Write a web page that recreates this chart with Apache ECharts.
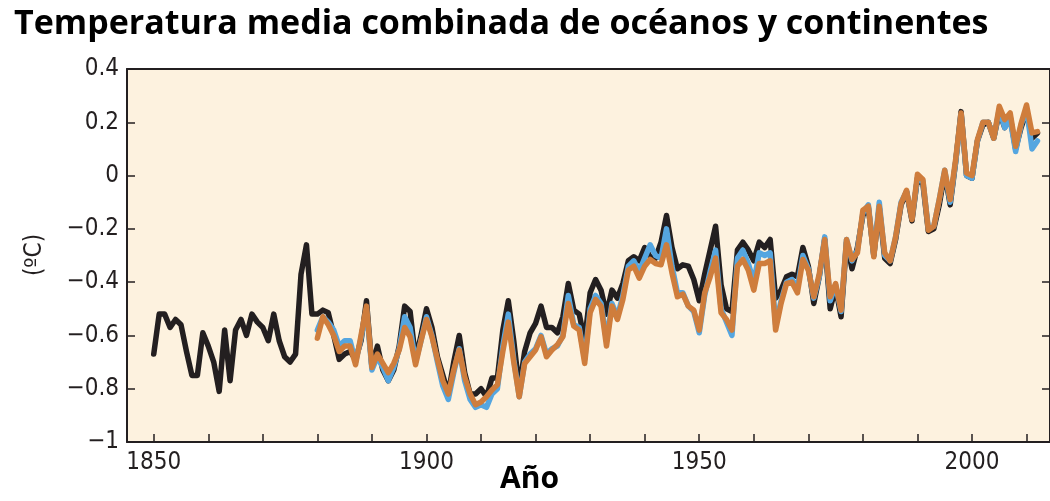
<!DOCTYPE html>
<html>
<head>
<meta charset="utf-8">
<script src="https://cdn.jsdelivr.net/npm/echarts@6/dist/echarts.min.js"></script>
<style>
  html, body { margin: 0; padding: 0; background: #ffffff; }
  #chart { width: 1050px; height: 501px; }
</style>
</head>
<body>
<div id="chart"></div>
<script>
// Annual combined land and ocean surface temperature anomalies (°C)
const blackStart = 1850;
const blackValues = [
  -0.67, -0.52, -0.52, -0.57, -0.54, -0.56, -0.66, -0.75, -0.75, -0.59,
  -0.64, -0.70, -0.81, -0.58, -0.77, -0.58, -0.54, -0.60, -0.52, -0.55,
  -0.57, -0.62, -0.52, -0.62, -0.68, -0.70, -0.67, -0.37, -0.26, -0.52,
  -0.52, -0.505, -0.515, -0.60, -0.69, -0.67, -0.66, -0.69, -0.62, -0.47,
  -0.72, -0.64, -0.73, -0.77, -0.73, -0.64, -0.49, -0.51, -0.69, -0.60,
  -0.50, -0.57, -0.68, -0.75, -0.82, -0.70, -0.60, -0.74, -0.82, -0.82,
  -0.80, -0.83, -0.76, -0.76, -0.58, -0.47, -0.62, -0.80, -0.66, -0.59,
  -0.555, -0.49, -0.57, -0.57, -0.59, -0.53, -0.405, -0.505, -0.52, -0.62,
  -0.44, -0.39, -0.43, -0.52, -0.43, -0.46, -0.405, -0.32, -0.305, -0.32,
  -0.27, -0.305, -0.31, -0.25, -0.15, -0.27, -0.35, -0.335, -0.34, -0.39,
  -0.47, -0.37, -0.28, -0.19, -0.41, -0.50, -0.51, -0.28, -0.25, -0.28,
  -0.32, -0.25, -0.27, -0.24, -0.46, -0.43, -0.38, -0.37, -0.38, -0.27,
  -0.34, -0.48, -0.38, -0.24, -0.50, -0.42, -0.53, -0.25, -0.35, -0.27,
  -0.15, -0.12, -0.30, -0.12, -0.31, -0.33, -0.24, -0.11, -0.06, -0.17,
  -0.01, -0.03, -0.21, -0.20, -0.11, 0.01, -0.11, 0.05, 0.24, 0.00,
  -0.01, 0.13, 0.19, 0.20, 0.14, 0.24, 0.18, 0.22, 0.10, 0.18,
  0.24, 0.14, 0.16
];

const blueStart = 1880;
const blueValues = [
  -0.58, -0.53, -0.55, -0.58, -0.64, -0.62, -0.62, -0.70, -0.61, -0.50,
  -0.73, -0.68, -0.72, -0.77, -0.72, -0.65, -0.53, -0.57, -0.70, -0.62,
  -0.53, -0.60, -0.70, -0.79, -0.84, -0.74, -0.65, -0.77, -0.84, -0.87,
  -0.86, -0.87, -0.82, -0.80, -0.64, -0.52, -0.69, -0.83, -0.70, -0.67,
  -0.65, -0.60, -0.67, -0.65, -0.64, -0.60, -0.45, -0.56, -0.57, -0.69,
  -0.50, -0.45, -0.48, -0.62, -0.48, -0.53, -0.45, -0.34, -0.32, -0.36,
  -0.31, -0.26, -0.30, -0.31, -0.20, -0.34, -0.44, -0.44, -0.49, -0.51,
  -0.59, -0.45, -0.36, -0.28, -0.50, -0.55, -0.60, -0.31, -0.28, -0.33,
  -0.40, -0.29, -0.30, -0.29, -0.56, -0.47, -0.40, -0.39, -0.42, -0.30,
  -0.35, -0.46, -0.38, -0.23, -0.47, -0.41, -0.51, -0.24, -0.32, -0.28,
  -0.14, -0.11, -0.30, -0.10, -0.30, -0.32, -0.23, -0.10, -0.06, -0.16,
  -0.01, -0.02, -0.20, -0.19, -0.09, 0.02, -0.10, 0.05, 0.23, 0.00,
  -0.01, 0.13, 0.20, 0.20, 0.14, 0.25, 0.18, 0.21, 0.09, 0.19,
  0.25, 0.10, 0.13
];

const orangeStart = 1880;
const orangeValues = [
  -0.61, -0.53, -0.56, -0.60, -0.66, -0.64, -0.64, -0.71, -0.60, -0.49,
  -0.72, -0.67, -0.705, -0.74, -0.705, -0.655, -0.57, -0.605, -0.71, -0.62,
  -0.54, -0.605, -0.69, -0.77, -0.82, -0.73, -0.655, -0.755, -0.82, -0.86,
  -0.85, -0.83, -0.805, -0.785, -0.66, -0.55, -0.70, -0.83, -0.705, -0.68,
  -0.655, -0.605, -0.68, -0.655, -0.635, -0.605, -0.48, -0.565, -0.58, -0.705,
  -0.515, -0.465, -0.49, -0.64, -0.49, -0.54, -0.465, -0.355, -0.34, -0.385,
  -0.34, -0.315, -0.33, -0.335, -0.26, -0.365, -0.455, -0.445, -0.49, -0.505,
  -0.58, -0.44, -0.38, -0.31, -0.515, -0.54, -0.58, -0.34, -0.315, -0.355,
  -0.43, -0.33, -0.33, -0.32, -0.58, -0.48, -0.405, -0.40, -0.44, -0.315,
  -0.355, -0.455, -0.37, -0.24, -0.455, -0.405, -0.505, -0.24, -0.315, -0.29,
  -0.13, -0.115, -0.305, -0.115, -0.29, -0.32, -0.23, -0.105, -0.055, -0.165,
  0.005, -0.015, -0.205, -0.19, -0.09, 0.02, -0.09, 0.06, 0.235, 0.01,
  0.00, 0.135, 0.20, 0.20, 0.14, 0.26, 0.21, 0.235, 0.11, 0.195,
  0.265, 0.16, 0.165
];

const yTicks = [-1, -0.8, -0.6, -0.4, -0.2, 0, 0.2, 0.4];
const xMinorTicks = [1850, 1860, 1870, 1880, 1890, 1900, 1910, 1920, 1930, 1940, 1950, 1960, 1970, 1980, 1990, 2000, 2010];
const xLabels = [1850, 1900, 1950, 2000];

const titleText = 'Temperatura media combinada de océanos y continentes';
const xTitle = 'Año';
const yTitle = '(ºC)';

function pairs(start, values) {
  return values.map((v, i) => [start + i, v]);
}

function fmtY(v) {
  const r = Math.round(v * 10) / 10;
  if (r === 0) return '0';
  const s = Number.isInteger(r) ? String(Math.abs(r)) : Math.abs(r).toFixed(1);
  return (r < 0 ? '\u2212' : '') + s;
}

const ink = '#231f20';
const tickFont = '"Liberation Sans Narrow", "DejaVu Sans Condensed", sans-serif';
const boldFont = '"Open Sans", "Liberation Sans", sans-serif';

const xMin = 1845.1;
const xMax = 2014.3;

const chart = echarts.init(document.getElementById('chart'), null, { renderer: 'canvas' });

chart.setOption({
  animation: false,
  backgroundColor: '#ffffff',
  title: {
    text: titleText,
    left: 9,
    top: 2,
    textStyle: { fontFamily: boldFont, fontWeight: 'bold', fontSize: 34, color: '#000000' }
  },
  grid: {
    left: 127, top: 69, right: -4, bottom: 59,
    show: true, backgroundColor: '#fdf2df', borderWidth: 0
  },
  xAxis: [{
    type: 'value',
    min: xMin,
    max: xMax,
    position: 'bottom',
    axisLine: { show: true, onZero: false, lineStyle: { color: ink, width: 2 } },
    axisTick: { show: true, inside: true, length: 8, customValues: xMinorTicks, lineStyle: { color: ink, width: 1.5 } },
    axisLabel: { show: true, customValues: xLabels, margin: 9, fontSize: 24, color: ink, fontFamily: tickFont, formatter: (v) => String(v) },
    splitLine: { show: false }
  }, {
    type: 'value',
    min: xMin,
    max: xMax,
    position: 'top',
    axisLine: { show: true, onZero: false, lineStyle: { color: ink, width: 2 } },
    axisTick: { show: false },
    axisLabel: { show: false },
    splitLine: { show: false }
  }],
  yAxis: [{
    type: 'value',
    min: -1,
    max: 0.4,
    interval: 0.2,
    position: 'left',
    axisLine: { show: true, onZero: false, lineStyle: { color: ink, width: 2 } },
    axisTick: { show: true, inside: true, length: 8, lineStyle: { color: ink, width: 1.5 } },
    axisLabel: { margin: 8, fontSize: 24, color: ink, fontFamily: tickFont, formatter: fmtY },
    splitLine: { show: false }
  }, {
    type: 'value',
    min: -1,
    max: 0.4,
    interval: 0.2,
    position: 'right',
    axisLine: { show: true, onZero: false, lineStyle: { color: ink, width: 2 } },
    axisTick: { show: true, inside: true, length: 8, lineStyle: { color: ink, width: 1.5 } },
    axisLabel: { show: false },
    splitLine: { show: false }
  }],
  graphic: [{
    type: 'text',
    left: 500,
    top: 464,
    style: { text: xTitle, font: 'bold 30px ' + boldFont, fill: '#000000' }
  }, {
    type: 'text',
    x: 35,
    y: 255,
    rotation: Math.PI / 2,
    style: { text: yTitle, font: '24px ' + tickFont, fill: ink, align: 'center', verticalAlign: 'middle' }
  }],
  series: [{
    name: 'black',
    type: 'line',
    xAxisIndex: 0, yAxisIndex: 0,
    data: pairs(blackStart, blackValues),
    showSymbol: false, symbol: 'none',
    lineStyle: { color: '#231f20', width: 5.5, join: 'round', cap: 'round' },
    z: 2
  }, {
    name: 'blue',
    type: 'line',
    xAxisIndex: 0, yAxisIndex: 0,
    data: pairs(blueStart, blueValues),
    showSymbol: false, symbol: 'none',
    lineStyle: { color: '#55a6e0', width: 5.5, join: 'round', cap: 'round' },
    z: 3
  }, {
    name: 'orange',
    type: 'line',
    xAxisIndex: 0, yAxisIndex: 0,
    data: pairs(orangeStart, orangeValues),
    showSymbol: false, symbol: 'none',
    lineStyle: { color: '#cf7d3c', width: 5.5, join: 'round', cap: 'round' },
    z: 4
  }]
});
</script>
</body>
</html>
